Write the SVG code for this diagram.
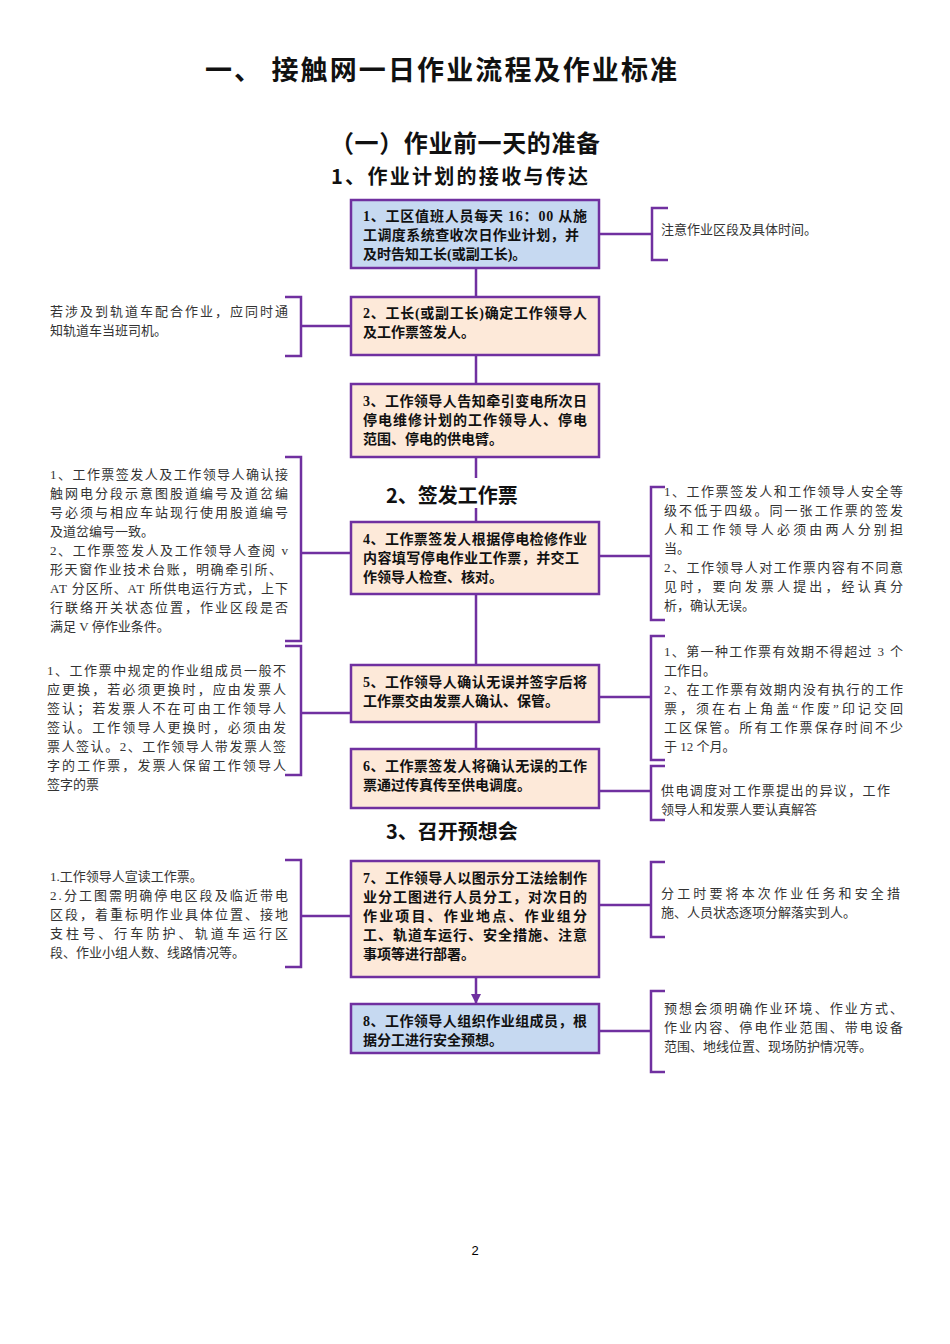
<svg xmlns="http://www.w3.org/2000/svg" width="950" height="1344" viewBox="0 0 950 1344">
<style>
.b{stroke:#7030a0;stroke-width:2.5}
.blue{fill:#c6d9f1}.peach{fill:#fde9d9}
.bt{font-family:"Liberation Serif","Noto Sans CJK SC",serif;font-size:14px;font-weight:bold;fill:#111}
.st{font-family:"Liberation Serif","Noto Sans CJK SC",serif;font-size:13px;fill:#333}
.h{font-family:"Noto Sans CJK SC",sans-serif;font-weight:bold;fill:#111}
.c{fill:none;stroke:#7030a0;stroke-width:2.5}
</style>
<defs><marker id="a" viewBox="0 0 10 10" refX="9" refY="5" markerWidth="4" markerHeight="4" markerUnits="strokeWidth" orient="auto"><path d="M0,0L10,5L0,10z" fill="#7030a0"/></marker></defs>
<rect width="950" height="1344" fill="#fff"/>
<text class="h" x="205" y="80" font-size="27" textLength="472" lengthAdjust="spacing">一、  接触网一日作业流程及作业标准</text>
<text class="h" x="330" y="152" font-size="24" textLength="270" lengthAdjust="spacing">（一）作业前一天的准备</text>
<text class="h" x="331" y="184" font-size="20" textLength="257" lengthAdjust="spacing">1、作业计划的接收与传达</text>
<g id="connectors">
<path class="c" marker-end="url(#a)" d="M476,268V296M476,355V383M476,457V521M476,594V664M476,722V748M476,977V1003"/>
<path class="c" d="M599,234H652M668,208H652V260H668"/>
<path class="c" d="M351,326H301M285,297H301V356H285"/>
<path class="c" d="M351,553H301M285,457H301V641H285"/>
<path class="c" d="M599,556H651M665,487H651V620H665"/>
<path class="c" d="M351,713H301M285,646H301V775H285"/>
<path class="c" d="M599,697H651M665,636H651V760H665"/>
<path class="c" d="M599,791H651M665,766H651V820H665"/>
<path class="c" d="M351,916H301M285,860H301V967H285"/>
<path class="c" d="M599,905H651M665,862H651V937H665"/>
<path class="c" d="M599,1031H651M665,991H651V1072H665"/>
</g>
<rect x="380" y="478" width="155" height="30" fill="#fff"/>
<text class="h" x="386" y="503" font-size="20">2、签发工作票</text>
<text class="h" x="386" y="839" font-size="20">3、召开预想会</text>
<text x="475" y="1255" font-family="Liberation Sans,sans-serif" font-size="13" text-anchor="middle">2</text>
<g id="n1"><rect class="b blue" x="351" y="200" width="248" height="68"/><text class="bt" x="363" y="221" textLength="224">1、工区值班人员每天 16：00 从施</text><text class="bt" x="363" y="240" textLength="216">工调度系统查收次日作业计划，并</text><text class="bt" x="363" y="259">及时告知工长(或副工长)。</text></g>
<g id="n2"><rect class="b peach" x="351" y="297" width="248" height="58"/><text class="bt" x="363" y="318" textLength="224">2、工长(或副工长)确定工作领导人</text><text class="bt" x="363" y="337">及工作票签发人。</text></g>
<g id="n3"><rect class="b peach" x="351" y="384" width="248" height="73"/><text class="bt" x="363" y="406" textLength="224">3、工作领导人告知牵引变电所次日</text><text class="bt" x="363" y="425" textLength="224">停电维修计划的工作领导人、停电</text><text class="bt" x="363" y="444">范围、停电的供电臂。</text></g>
<g id="n4"><rect class="b peach" x="351" y="522" width="248" height="72"/><text class="bt" x="363" y="544" textLength="224">4、工作票签发人根据停电检修作业</text><text class="bt" x="363" y="563" textLength="216">内容填写停电作业工作票，并交工</text><text class="bt" x="363" y="582">作领导人检查、核对。</text></g>
<g id="n5"><rect class="b peach" x="351" y="665" width="248" height="57"/><text class="bt" x="363" y="687" textLength="224">5、工作领导人确认无误并签字后将</text><text class="bt" x="363" y="706">工作票交由发票人确认、保管。</text></g>
<g id="n6"><rect class="b peach" x="351" y="749" width="248" height="59"/><text class="bt" x="363" y="771" textLength="224">6、工作票签发人将确认无误的工作</text><text class="bt" x="363" y="790">票通过传真传至供电调度。</text></g>
<g id="n7"><rect class="b peach" x="351" y="861" width="248" height="116"/><text class="bt" x="363" y="883" textLength="224">7、工作领导人以图示分工法绘制作</text><text class="bt" x="363" y="902" textLength="224">业分工图进行人员分工，对次日的</text><text class="bt" x="363" y="921" textLength="224">作业项目、作业地点、作业组分</text><text class="bt" x="363" y="940" textLength="224">工、轨道车运行、安全措施、注意</text><text class="bt" x="363" y="959">事项等进行部署。</text></g>
<g id="n8"><rect class="b blue" x="351" y="1004" width="248" height="49"/><text class="bt" x="363" y="1026" textLength="224">8、工作领导人组织作业组成员，根</text><text class="bt" x="363" y="1045">据分工进行安全预想。</text></g>
<g id="notes">
<text class="st" x="661" y="234">注意作业区段及具体时间。</text>
<text class="st" x="50" y="316" textLength="238">若涉及到轨道车配合作业，应同时通</text><text class="st" x="50" y="335">知轨道车当班司机。</text>
<text class="st" x="50" y="479" textLength="238">1、工作票签发人及工作领导人确认接</text><text class="st" x="50" y="498" textLength="238">触网电分段示意图股道编号及道岔编</text><text class="st" x="50" y="517" textLength="238">号必须与相应车站现行使用股道编号</text><text class="st" x="50" y="536">及道岔编号一致。</text><text class="st" x="50" y="555" textLength="238">2、工作票签发人及工作领导人查阅 v</text><text class="st" x="50" y="574" textLength="232">形天窗作业技术台账，明确牵引所、</text><text class="st" x="50" y="593" textLength="238">AT 分区所、AT 所供电运行方式，上下</text><text class="st" x="50" y="612" textLength="238">行联络开关状态位置，作业区段是否</text><text class="st" x="50" y="631">满足 V 停作业条件。</text>
<text class="st" x="664" y="496" textLength="239">1、工作票签发人和工作领导人安全等</text><text class="st" x="664" y="515" textLength="239">级不低于四级。同一张工作票的签发</text><text class="st" x="664" y="534" textLength="239">人和工作领导人必须由两人分别担</text><text class="st" x="664" y="553">当。</text><text class="st" x="664" y="572" textLength="239">2、工作领导人对工作票内容有不同意</text><text class="st" x="664" y="591" textLength="239">见时，要向发票人提出，经认真分</text><text class="st" x="664" y="610">析，确认无误。</text>
<text class="st" x="47" y="675" textLength="239">1、工作票中规定的作业组成员一般不</text><text class="st" x="47" y="694" textLength="239">应更换，若必须更换时，应由发票人</text><text class="st" x="47" y="713" textLength="239">签认；若发票人不在可由工作领导人</text><text class="st" x="47" y="732" textLength="239">签认。工作领导人更换时，必须由发</text><text class="st" x="47" y="751" textLength="239">票人签认。2、工作领导人带发票人签</text><text class="st" x="47" y="770" textLength="239">字的工作票，发票人保留工作领导人</text><text class="st" x="47" y="789">签字的票</text>
<text class="st" x="664" y="656" textLength="239">1、第一种工作票有效期不得超过 3 个</text><text class="st" x="664" y="675">工作日。</text><text class="st" x="664" y="694" textLength="239">2、在工作票有效期内没有执行的工作</text><text class="st" x="664" y="713" textLength="239">票，须在右上角盖“作废”印记交回</text><text class="st" x="664" y="732" textLength="239">工区保管。所有工作票保存时间不少</text><text class="st" x="664" y="751">于 12 个月。</text>
<text class="st" x="661" y="795" textLength="229">供电调度对工作票提出的异议，工作</text><text class="st" x="661" y="814">领导人和发票人要认真解答</text>
<text class="st" x="50" y="881">1.工作领导人宣读工作票。</text><text class="st" x="50" y="900" textLength="238">2.分工图需明确停电区段及临近带电</text><text class="st" x="50" y="919" textLength="238">区段，着重标明作业具体位置、接地</text><text class="st" x="50" y="938" textLength="238">支柱号、行车防护、轨道车运行区</text><text class="st" x="50" y="957">段、作业小组人数、线路情况等。</text>
<text class="st" x="661" y="898" textLength="239">分工时要将本次作业任务和安全措</text><text class="st" x="661" y="917">施、人员状态逐项分解落实到人。</text>
<text class="st" x="664" y="1013" textLength="239">预想会须明确作业环境、作业方式、</text><text class="st" x="664" y="1032" textLength="239">作业内容、停电作业范围、带电设备</text><text class="st" x="664" y="1051">范围、地线位置、现场防护情况等。</text>
</g>
</svg>
